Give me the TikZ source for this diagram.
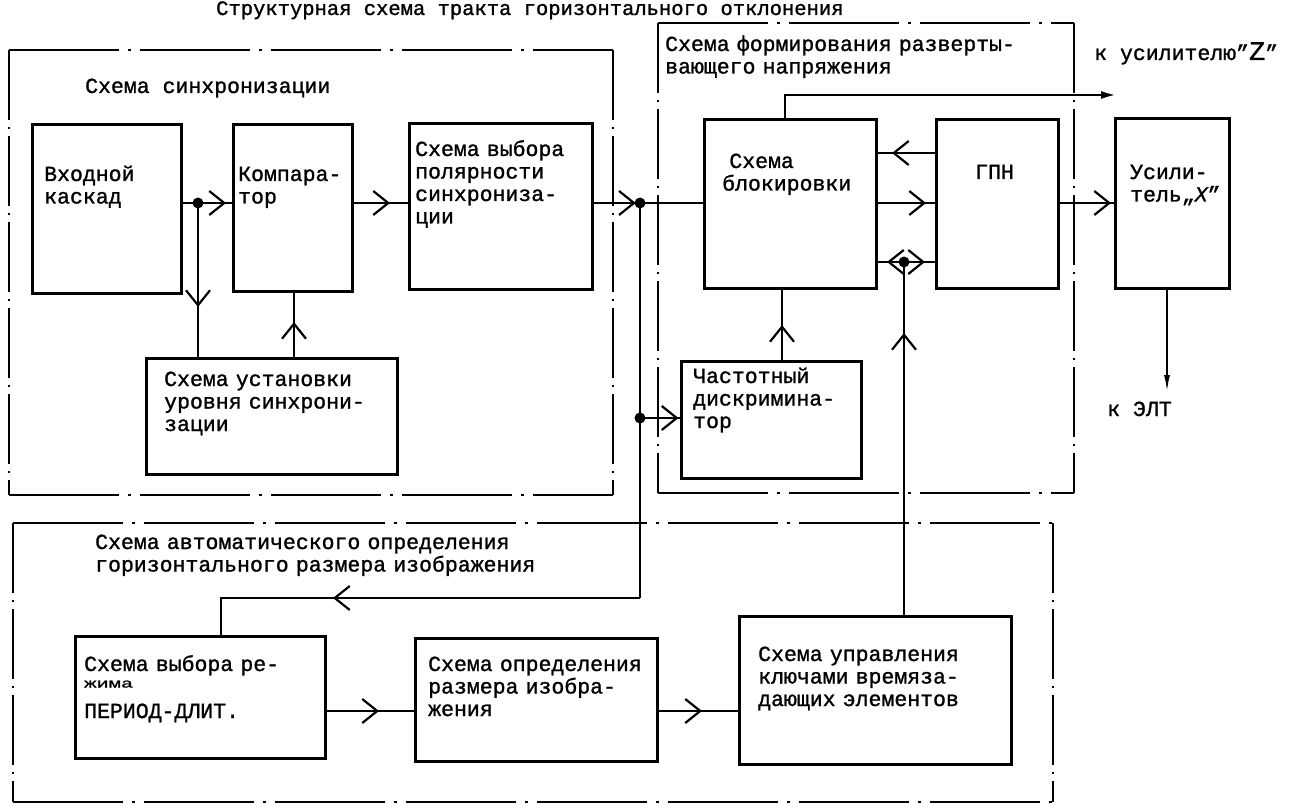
\documentclass[tikz,border=0pt]{standalone}
\usepackage{graphicx}
\usepackage{fontspec}
\setmainfont{Liberation Mono}[FakeBold=1.2]
\usetikzlibrary{arrows.meta,decorations.markings}
\begin{document}
\begin{tikzpicture}[x=1pt,y=-1pt,
  font=\fontsize{21.5}{22.5}\selectfont,
  blk/.style={draw, line width=2.8pt, inner sep=0pt, anchor=north west},
  txt/.style={anchor=base west, inner sep=0pt, align=left, text width=#1},
  txt/.default=240pt,
  lbl/.style={anchor=base west, inner sep=0pt},
  con/.style={line width=2.8pt},
  arr/.style={postaction={decorate, decoration={markings,
     mark=at position #1 with {\arrow{Straight Barb[length=15pt,width=24pt,line width=2.2pt]}}}}},
  grph/.style={line width=2.4pt, dash pattern=on 110pt off 9pt on 3pt off 9pt},
  grpv/.style={line width=1.3pt, dash pattern=on 70pt off 7pt on 2pt off 7pt},
  dot/.style={fill=black}]
\fill[white] (0,0) rectangle (1300,810);
\useasboundingbox (0,0) rectangle (1300,810);

% title
\node[lbl, font=\fontsize{20.5}{22}\selectfont] (title) at (216,15) {Структурная схема тракта горизонтального отклонения};

% group frames
\coordinate (sA) at (9,50);   \coordinate (sB) at (613,495);
\coordinate (wA) at (658,23); \coordinate (wB) at (1074,493);
\coordinate (aA) at (13,523); \coordinate (aB) at (1053,802);
\draw[grph] (sA) -- (sA -| sB); \draw[grph] (sA |- sB) -- (sB);
\draw[grpv] (sA) -- (sA |- sB); \draw[grpv] (sA -| sB) -- (sB);
\draw[grph] (wA) -- (wA -| wB); \draw[grph] (wA |- wB) -- (wB);
\draw[grpv] (wA) -- (wA |- wB); \draw[grpv] (wA -| wB) -- (wB);
\draw[grph] (aA) -- (aA -| aB); \draw[grph] (aA |- aB) -- (aB);
\draw[grpv] (aA) -- (aA |- aB); \draw[grpv] (aA -| aB) -- (aB);

\node[lbl] (syncL) at (85,93) {Схема синхронизации};
\node[txt=400pt] (sweepL) at (665,51) {Схема формирования разверты-\\вающего напряжения};
\node[txt=500pt] (autoL) at (95,549) {Схема автоматического определения\\горизонтального размера изображения};
\node[lbl] (zL) at (1094,60) {к усилителю"{\fontsize{27}{27}\selectfont Z}"};
\node[lbl] (eltL) at (1107,416) {к ЭЛТ};

% blocks
\node[blk, minimum width=149pt, minimum height=169pt] (vhod) at (31,123) {};
\node[blk, minimum width=119pt, minimum height=167pt] (komp) at (232,123) {};
\node[blk, minimum width=183pt, minimum height=166pt] (polar) at (408,122) {};
\node[blk, minimum width=251pt, minimum height=116pt] (urov) at (145,357) {};
\node[blk, minimum width=172pt, minimum height=169pt] (blok) at (703,118) {};
\node[blk, minimum width=122pt, minimum height=169pt] (gpn) at (935,118) {};
\node[blk, minimum width=114pt, minimum height=170pt] (usil) at (1114,117) {};
\node[blk, minimum width=180pt, minimum height=117pt] (chast) at (680,360) {};
\node[blk, minimum width=250pt, minimum height=122pt] (period) at (74,635) {};
\node[blk, minimum width=242pt, minimum height=123pt] (opred) at (414,637) {};
\node[blk, minimum width=272pt, minimum height=148pt] (uprav) at (738,615) {};

% block texts
\node[txt=130pt] (vhodT) at (44,181) {Входной\\каскад};
\node[txt=110pt] (kompT) at (238,181) {Компара-\\тор};
\node[txt=170pt] (polarT) at (415,156) {Схема выбора\\полярности\\синхрониза-\\ции};
\node[txt=230pt] (urovT) at (164,386) {Схема установки\\уровня синхрони-\\зации};
\node[txt=150pt] (blokT) at (722,168) {~Схема\\блокировки};
\node[lbl] (gpnT) at (975,179) {ГПН};
\node[txt=100pt] (usilT) at (1130,179) {Усили-\\тель„{\itshape X}"};
\node[txt=165pt] (chastT) at (693,383) {Частотный\\дискримина-\\тор};
\node[txt=235pt] (periodT) at (84,671) {Схема выбора ре-\\[-6pt]\scalebox{0.95}[0.6]{жима}\\[8pt]ПЕРИОД-ДЛИТ.};
\node[txt=235pt] (opredT) at (428,671) {Схема определения\\размера изобра-\\жения};
\node[txt=250pt] (upravT) at (758,661) {Схема управления\\ключами времяза-\\дающих элементов};

% connectors
\coordinate (row) at (0,203);
\coordinate (d1) at (198,203);
\coordinate (ux) at (294,0);
\coordinate (j1) at (640,203);
\coordinate (j2) at (640,418);
\coordinate (fbc) at (640,598);
\coordinate (fbl) at (221,598);
\coordinate (cx) at (782,0);
\coordinate (r1) at (0,153);
\coordinate (d3) at (904,262);
\coordinate (zc) at (785,95);
\coordinate (ze) at (1117,95);
\coordinate (elt) at (1167,393);
\coordinate (pr) at (0,711);

\draw[con, arr=-6pt] (vhod.east |- row) -- (komp.west |- row);
\draw[con, arr=104pt] (d1) -- (urov.north -| d1);
\draw[con, arr=35pt] (urov.north -| ux) -- (komp.south -| ux);
\draw[con, arr=-18pt] (komp.east |- row) -- (polar.west |- row);
\draw[con, arr=42pt] (polar.east |- row) -- (blok.west |- row);
\draw[con] (j1) -- (fbc);
\draw[con, arr=-1.5pt] (j2) -- (chast.west |- j2);
\draw[con, arr=307pt] (fbc) -- (fbl) -- (period.north -| fbl);
\draw[con, arr=35pt] (chast.north -| cx) -- (blok.south -| cx);
\draw[con, arr=43pt] (gpn.west |- r1) -- (blok.east |- r1);
\draw[con, arr=-9pt] (blok.east |- row) -- (gpn.west |- row);
\draw[con] (blok.east |- d3) -- (gpn.west |- d3);
\draw[con, arr=17pt] (d3) -- (blok.east |- d3);
\draw[con, arr=21pt] (d3) -- (gpn.west |- d3);
\draw[con, arr=282pt] (uprav.north -| d3) -- (d3);
\draw[con, arr=-3pt] (gpn.east |- row) -- (usil.west |- row);
\draw[con, -{Latex[length=16pt,width=8pt]}] (blok.north -| zc) -- (zc) -- (ze);
\draw[con, line width=2.2pt, -{Latex[length=18pt,width=6pt]}] (usil.south -| elt) -- (elt);
\draw[con, arr=-35pt] (period.east |- pr) -- (opred.west |- pr);
\draw[con, arr=-36pt] (opred.east |- pr) -- (uprav.west |- pr);

\fill[dot] (d1) circle (5.5);
\fill[dot] (j1) circle (5.5);
\fill[dot] (j2) circle (5.5);
\fill[dot] (d3) circle (5.5);
\end{tikzpicture}
\end{document}
